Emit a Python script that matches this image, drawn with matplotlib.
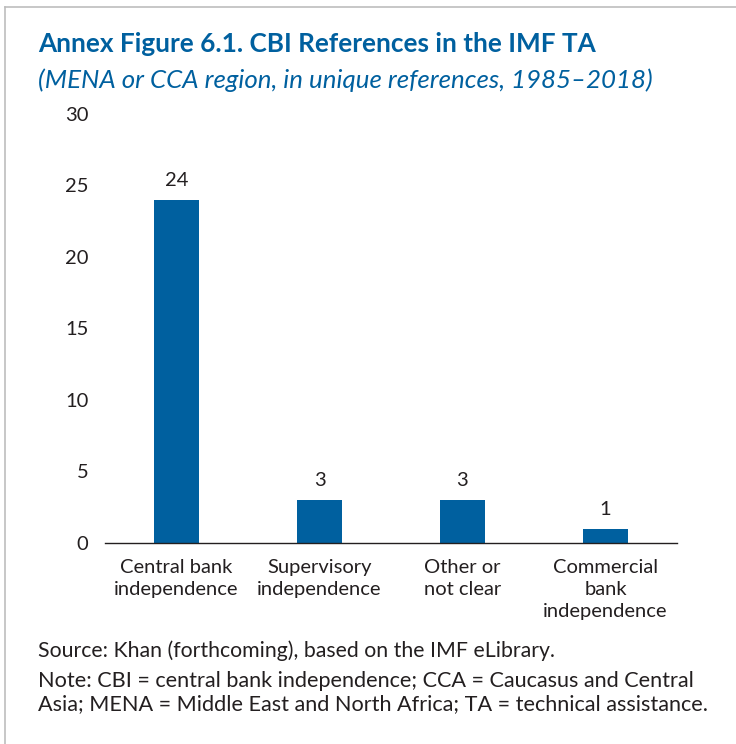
import matplotlib.pyplot as plt
from matplotlib.lines import Line2D

categories = ["Central bank\nindependence", "Supervisory\nindependence",
              "Other or\nnot clear", "Commercial\nbank\nindependence"]
values = [24, 3, 3, 1]
y_ticks = [0, 5, 10, 15, 20, 25, 30]

BLUE = "#00609F"
TXT = "#231F20"
plt.rcParams['font.family'] = ['Lato', 'DejaVu Sans']

fig = plt.figure(figsize=(7.36, 7.44), dpi=100)
ax = fig.add_axes([0.1427, 0.2702, 0.7771, 0.5766])

x = list(range(len(values)))
bars = ax.bar(x, values, width=0.32, color=BLUE, zorder=2)
for xi, v in zip(x, values):
    ax.text(xi, v + 0.75, str(v), ha="center", va="bottom", fontsize=14.5, color=TXT)

ax.set_xlim(-0.5, 3.5)
ax.set_ylim(0, 30)
ax.set_yticks(y_ticks)
ax.set_yticklabels([str(t) for t in y_ticks], fontsize=14.5, color=TXT)
ax.set_xticks(x)
ax.set_xticklabels(categories, fontsize=14.5, color=TXT, linespacing=1.37)
ax.tick_params(axis="both", length=0)
ax.tick_params(axis="y", pad=12)
ax.tick_params(axis="x", pad=11.5)
for s in ["top", "right", "left"]:
    ax.spines[s].set_visible(False)
ax.spines["bottom"].set_color("#231F20")
ax.spines["bottom"].set_linewidth(1.0)

# frame lines (top and left edges of the panel)
fig.add_artist(Line2D([5 / 736, 5 / 736], [0, 1 - 7 / 744], color="#BDBDBD", lw=1.2))
fig.add_artist(Line2D([5 / 736, 1], [1 - 7 / 744, 1 - 7 / 744], color="#BDBDBD", lw=1.2))

fig.text(38 / 736, 1 - 44 / 744, "Annex Figure 6.1. CBI References in the IMF TA",
         fontsize=18.8, fontweight="bold", color=BLUE, va="center")
fig.text(38 / 736, 1 - 80 / 744, "(MENA or CCA region, in unique references, 1985–2018)",
         fontsize=18.6, style="italic", color=BLUE, va="center")

fig.text(38 / 736, 1 - 651 / 744, "Source: Khan (forthcoming), based on the IMF eLibrary.",
         fontsize=15.3, color=TXT, va="center")
fig.text(38 / 736, 1 - 681 / 744,
         "Note: CBI = central bank independence; CCA = Caucasus and Central",
         fontsize=15.6, color=TXT, va="center")
fig.text(38 / 736, 1 - 704 / 744,
         "Asia; MENA = Middle East and North Africa; TA = technical assistance.",
         fontsize=15.6, color=TXT, va="center")

fig.savefig("out.png", dpi=100)
